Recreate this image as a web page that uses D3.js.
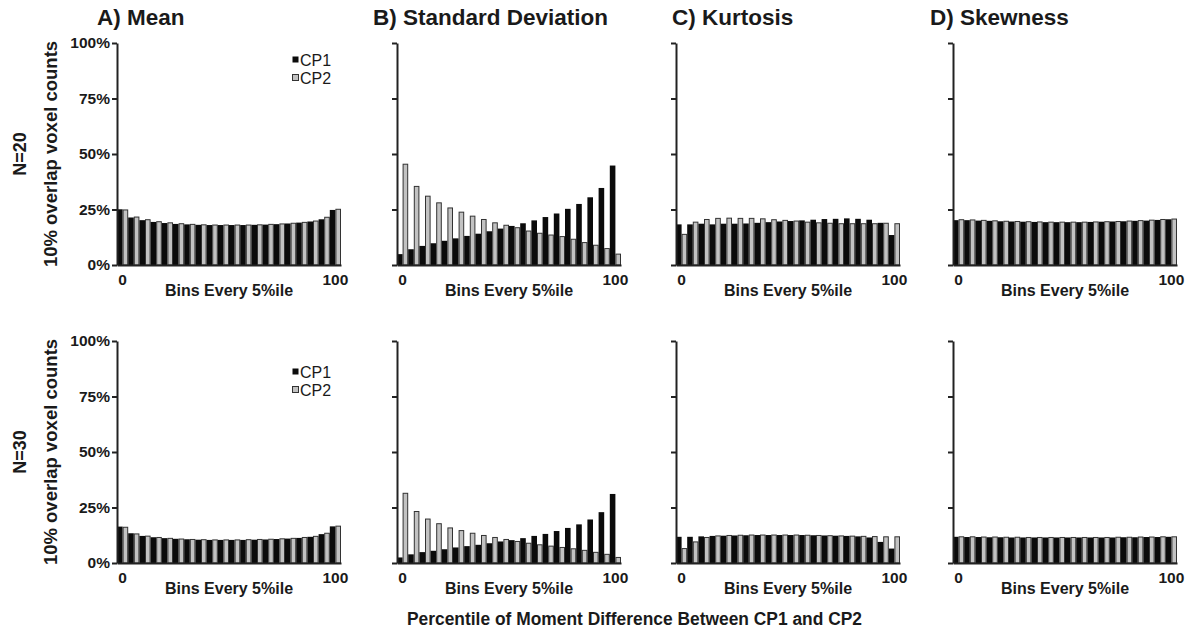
<!DOCTYPE html>
<html>
<head>
<meta charset="utf-8">
<script src="https://cdn.jsdelivr.net/npm/d3@7"></script>
<style>
  body { margin: 0; background: #fff; }
  text { font-family: "Liberation Sans", Arial, sans-serif; fill: #1a1a1a; }
</style>
</head>
<body>
<svg id="chart" width="1192" height="632"></svg>
<script>
// bins every 5th percentile (lower edge)
var bins = [0, 5, 10, 15, 20, 25, 30, 35, 40, 45, 50, 55, 60, 65, 70, 75, 80, 85, 90, 95];
var series = ['CP1', 'CP2'];
var yTicks = [0, 25, 50, 75, 100];
var panelTitles = ['A) Mean', 'B) Standard Deviation', 'C) Kurtosis', 'D) Skewness'];
var rowLabels = ['N=20', 'N=30'];

// % overlap voxel counts, N=20
var meanN20CP1 = [25.1, 21.4, 20.2, 19.4, 18.9, 18.5, 18.3, 18.1, 18.0, 18.0, 18.0, 18.0, 18.1, 18.2, 18.4, 18.7, 19.1, 19.6, 20.6, 24.8];
var meanN20CP2 = [24.8, 21.6, 20.4, 19.5, 19.0, 18.6, 18.3, 18.1, 18.0, 18.0, 18.0, 18.0, 18.1, 18.3, 18.5, 18.8, 19.2, 19.8, 21.5, 25.1];
var sdN20CP1 = [4.9, 7.1, 8.6, 9.8, 10.9, 12.0, 13.1, 14.1, 15.2, 16.4, 17.6, 18.8, 20.1, 21.6, 23.2, 25.3, 27.5, 30.5, 34.7, 44.8];
var sdN20CP2 = [45.4, 35.4, 31.0, 28.0, 25.7, 23.8, 22.0, 20.5, 19.0, 17.9, 16.8, 15.3, 14.3, 13.5, 12.8, 11.6, 10.1, 8.9, 7.4, 4.9];
var kurtN20CP1 = [18.3, 18.3, 18.6, 18.3, 18.6, 18.6, 18.7, 19.0, 19.3, 19.6, 19.8, 20.1, 20.4, 20.7, 20.8, 21.0, 20.8, 20.4, 19.0, 13.5];
var kurtN20CP2 = [13.8, 19.3, 20.5, 21.0, 21.1, 21.0, 21.0, 20.8, 20.4, 20.1, 19.8, 19.3, 19.0, 18.8, 18.6, 18.6, 18.6, 18.6, 18.8, 18.6];
var skewN20CP1 = [20.2, 20.2, 20.0, 19.9, 19.7, 19.6, 19.5, 19.4, 19.3, 19.3, 19.3, 19.3, 19.4, 19.5, 19.6, 19.7, 19.9, 20.0, 20.3, 20.6];
var skewN20CP2 = [20.4, 20.3, 20.1, 19.9, 19.7, 19.6, 19.5, 19.4, 19.3, 19.3, 19.3, 19.3, 19.4, 19.5, 19.6, 19.8, 20.0, 20.2, 20.5, 20.7];

// % overlap voxel counts, N=30
var meanN30CP1 = [16.4, 13.4, 12.2, 11.6, 11.2, 10.9, 10.7, 10.5, 10.4, 10.4, 10.4, 10.4, 10.5, 10.6, 10.8, 11.0, 11.3, 11.8, 13.0, 16.5];
var meanN30CP2 = [16.1, 13.1, 12.1, 11.5, 11.1, 10.8, 10.6, 10.5, 10.4, 10.4, 10.4, 10.5, 10.6, 10.7, 10.9, 11.1, 11.5, 12.0, 13.4, 16.6];
var sdN30CP1 = [2.5, 3.9, 4.9, 5.5, 6.2, 7.0, 7.6, 8.2, 8.9, 9.7, 10.3, 11.2, 12.2, 13.1, 14.4, 15.8, 17.4, 19.6, 22.9, 31.1];
var sdN30CP2 = [31.4, 23.2, 19.8, 17.7, 15.8, 14.6, 13.4, 12.4, 11.5, 10.6, 9.7, 8.9, 8.2, 7.6, 7.0, 6.4, 5.7, 4.8, 3.9, 2.5];
var kurtN30CP1 = [11.8, 11.8, 12.0, 12.2, 12.3, 12.4, 12.5, 12.6, 12.6, 12.6, 12.6, 12.6, 12.5, 12.4, 12.3, 12.2, 12.0, 11.5, 9.5, 6.5];
var kurtN30CP2 = [6.5, 9.5, 11.5, 12.2, 12.4, 12.5, 12.6, 12.6, 12.6, 12.6, 12.6, 12.5, 12.4, 12.3, 12.2, 12.1, 12.0, 11.9, 11.8, 11.8];
var skewN30CP1 = [11.8, 11.7, 11.7, 11.6, 11.6, 11.5, 11.5, 11.5, 11.5, 11.5, 11.5, 11.5, 11.5, 11.5, 11.5, 11.6, 11.6, 11.7, 11.7, 11.8];
var skewN30CP2 = [11.8, 11.8, 11.7, 11.7, 11.6, 11.6, 11.5, 11.5, 11.5, 11.5, 11.5, 11.5, 11.5, 11.5, 11.6, 11.6, 11.7, 11.7, 11.8, 11.8];

var grid = [
    [[meanN20CP1, meanN20CP2], [sdN20CP1, sdN20CP2], [kurtN20CP1, kurtN20CP2], [skewN20CP1, skewN20CP2]],
    [[meanN30CP1, meanN30CP2], [sdN30CP1, sdN30CP2], [kurtN30CP1, kurtN30CP2], [skewN30CP1, skewN30CP2]]
];

var svg = d3.select('#chart');
var panelLeft = [117, 397, 676, 953];
var titleLeft = [97, 373, 672, 930];
var rowTop = [43, 341];
var legendTop = [60, 372];
var plotW = 224, plotH = 222;
var axisColor = '#222';
var colors = {CP1: '#0b0b0b', CP2: '#c2c2c2'};

var x = d3.scaleBand().domain(bins).range([0, plotW]).paddingInner(0).paddingOuter(0);
var xs = d3.scaleBand().domain(series).range([0, x.bandwidth()]);
var y = d3.scaleLinear().domain([0, 100]).range([plotH, 0]);

// panel titles
panelTitles.forEach(function(t, c) {
    svg.append('text')
        .attr('x', titleLeft[c]).attr('y', 25)
        .style('font-size', '22.5px').style('font-weight', 'bold')
        .text(t);
});

rowLabels.forEach(function(lab, r) {
    var cy = rowTop[r] + plotH / 2;
    svg.append('text')
        .attr('transform', 'translate(26,' + cy + ') rotate(-90)')
        .attr('text-anchor', 'middle')
        .style('font-size', '18px').style('font-weight', 'bold')
        .text(lab);
    svg.append('text')
        .attr('transform', 'translate(57,' + cy + ') rotate(-90)')
        .attr('text-anchor', 'middle')
        .style('font-size', '18.5px').style('font-weight', 'bold')
        .text('10% overlap voxel counts');

    grid[r].forEach(function(pair, c) {
        var g = svg.append('g')
            .attr('transform', 'translate(' + panelLeft[c] + ',' + rowTop[r] + ')');

        var groups = g.selectAll('g.bin')
            .data(bins)
            .enter().append('g')
            .attr('class', 'bin')
            .attr('transform', function(d) { return 'translate(' + x(d) + ',0)'; });

        groups.selectAll('rect')
            .data(function(d, i) {
                return series.map(function(s, k) { return {key: s, value: pair[k][i]}; });
            })
            .enter().append('rect')
            .attr('x', function(d) { return xs(d.key) + (d.key === 'CP2' ? 0.5 : 0); })
            .attr('width', function(d) { return xs.bandwidth() - (d.key === 'CP2' ? 1 : 0); })
            .attr('y', function(d) { return y(d.value); })
            .attr('height', function(d) { return plotH - y(d.value); })
            .attr('fill', function(d) { return colors[d.key]; })
            .attr('stroke', function(d) { return d.key === 'CP2' ? '#333' : 'none'; })
            .attr('stroke-width', 1);

        // y axis
        var yAxis = d3.axisLeft(y).tickValues(yTicks).tickSize(5).tickSizeOuter(0)
            .tickFormat(c === 0 ? function(d) { return d + '%'; } : function() { return ''; });
        var ya = g.append('g').call(yAxis);
        ya.select('.domain').attr('stroke', axisColor).attr('stroke-width', 2);
        ya.selectAll('.tick line').attr('stroke', axisColor).attr('stroke-width', 2);
        ya.selectAll('.tick text')
            .attr('x', -7)
            .style('font-family', '"Liberation Sans", Arial, sans-serif')
            .style('font-size', '15.5px').style('font-weight', 'bold').attr('fill', '#1a1a1a');

        // x axis: baseline with end labels only
        var xAxis = d3.axisBottom(x).tickValues([bins[0], bins[bins.length - 1]])
            .tickSize(0).tickSizeOuter(0).tickPadding(9)
            .tickFormat(function(d) { return d === bins[0] ? '0' : '100'; });
        var xa = g.append('g').attr('transform', 'translate(0,' + plotH + ')').call(xAxis);
        xa.select('.domain').attr('stroke', axisColor).attr('stroke-width', 2);
        xa.selectAll('.tick text')
            .style('font-family', '"Liberation Sans", Arial, sans-serif')
            .style('font-size', '15.5px').style('font-weight', 'bold').attr('fill', '#1a1a1a');

        g.append('text')
            .attr('x', plotW / 2).attr('y', plotH + 31)
            .attr('text-anchor', 'middle')
            .style('font-size', '16px').style('font-weight', 'bold')
            .text('Bins Every 5%ile');
    });

    // legend in the Mean panel
    var lg = svg.append('g').attr('transform', 'translate(292,' + legendTop[r] + ')');
    series.forEach(function(s, k) {
        lg.append('rect')
            .attr('x', 0.5).attr('y', k * 18 - 3.5)
            .attr('width', 6).attr('height', 6)
            .attr('fill', colors[s])
            .attr('stroke', s === 'CP2' ? '#333' : 'none');
        lg.append('text')
            .attr('x', 8).attr('y', k * 18)
            .attr('dy', '0.35em')
            .style('font-size', '16px')
            .text(s);
    });
});

svg.append('text')
    .attr('x', 407).attr('y', 625)
    .attr('textLength', 455).attr('lengthAdjust', 'spacingAndGlyphs')
    .style('font-size', '17.5px').style('font-weight', 'bold')
    .text('Percentile of Moment Difference Between CP1 and CP2');
</script>
</body>
</html>
